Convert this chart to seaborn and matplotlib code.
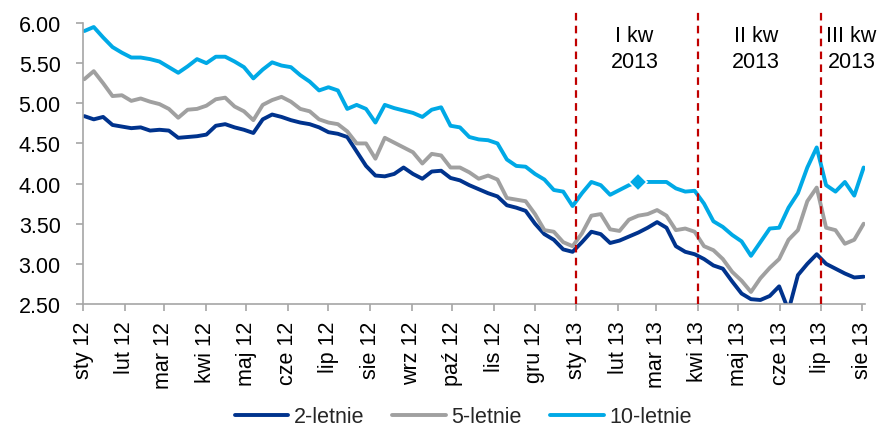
import pandas as pd
import seaborn as sns
import matplotlib.pyplot as plt

# tygodniowe odczyty rentownosci, 2012-01-02 .. 2013-08-02
START = "2012-01-02"
END = "2013-08-02"

Y2 = [
    4.84, 4.80, 4.83, 4.73, 4.71, 4.69, 4.70, 4.66, 4.67, 4.66,
    4.57, 4.58, 4.59, 4.61, 4.72, 4.74, 4.70, 4.67, 4.63, 4.80,
    4.86, 4.83, 4.79, 4.76, 4.74, 4.70, 4.64, 4.62, 4.58, 4.40,
    4.22, 4.10, 4.09, 4.12, 4.20, 4.12, 4.06, 4.15, 4.16, 4.07,
    4.04, 3.98, 3.93, 3.88, 3.84, 3.73, 3.70, 3.66, 3.50, 3.37,
    3.30, 3.18, 3.15, 3.27, 3.40, 3.37, 3.26, 3.29, 3.34, 3.39,
    3.45, 3.52, 3.45, 3.22, 3.15, 3.12, 3.06, 2.98, 2.94, 2.78,
    2.63, 2.56, 2.55, 2.60, 2.72, 2.42, 2.86, 3.00, 3.12, 3.00,
    2.94, 2.88, 2.83, 2.84,
]
Y5 = [
    5.30, 5.40, 5.25, 5.09, 5.10, 5.03, 5.06, 5.02, 4.99, 4.93,
    4.82, 4.92, 4.93, 4.97, 5.05, 5.07, 4.96, 4.90, 4.79, 4.98,
    5.04, 5.08, 5.02, 4.93, 4.90, 4.80, 4.76, 4.74, 4.65, 4.50,
    4.50, 4.31, 4.57, 4.51, 4.45, 4.39, 4.25, 4.37, 4.35, 4.20,
    4.20, 4.14, 4.06, 4.10, 4.05, 3.82, 3.80, 3.78, 3.62, 3.42,
    3.40, 3.27, 3.22, 3.38, 3.60, 3.62, 3.43, 3.41, 3.55, 3.60,
    3.62, 3.67, 3.60, 3.42, 3.44, 3.40, 3.22, 3.17, 3.06, 2.90,
    2.79, 2.65, 2.82, 2.95, 3.06, 3.30, 3.42, 3.78, 3.95, 3.45,
    3.42, 3.25, 3.30, 3.50,
]
Y10 = [
    5.90, 5.95, 5.82, 5.70, 5.63, 5.57, 5.57, 5.55, 5.52, 5.45,
    5.38, 5.46, 5.55, 5.50, 5.58, 5.58, 5.52, 5.45, 5.31, 5.42,
    5.51, 5.47, 5.45, 5.35, 5.27, 5.16, 5.20, 5.16, 4.93, 4.98,
    4.93, 4.76, 4.98, 4.94, 4.91, 4.88, 4.83, 4.92, 4.95, 4.72,
    4.70, 4.58, 4.55, 4.54, 4.50, 4.30, 4.22, 4.21, 4.12, 4.05,
    3.92, 3.90, 3.72, 3.88, 4.02, 3.98, 3.86, 3.92, 3.98, 4.02,
    4.02, 4.02, 4.02, 3.94, 3.90, 3.91, 3.75, 3.53, 3.46, 3.36,
    3.28, 3.10, 3.27, 3.44, 3.45, 3.70, 3.88, 4.20, 4.45, 3.98,
    3.90, 4.02, 3.85, 4.20,
]

SERIES = ["2-letnie", "5-letnie", "10-letnie"]
COLORS = ["#00338D", "#A0A0A0", "#00A9E6"]
MONTHS = ["sty", "lut", "mar", "kwi", "maj", "cze",
          "lip", "sie", "wrz", "paź", "lis", "gru"]
Y_TICKS = [2.5, 3.0, 3.5, 4.0, 4.5, 5.0, 5.5, 6.0]
Q_STARTS = ["2013-01-01", "2013-04-01", "2013-07-01"]
Q_LABELS = ["I kw\n2013", "II kw\n2013", "III kw\n2013"]
Q_LABEL_AT = ["2013-02-13", "2013-05-14", "2013-07-24"]
MARKED = 59  # punkt z rombem na serii 10-letniej


def build_frame():
    dates = pd.date_range(START, END, periods=len(Y2))
    df = pd.DataFrame({"data": dates, SERIES[0]: Y2, SERIES[1]: Y5, SERIES[2]: Y10})
    return df.melt(id_vars="data", var_name="seria", value_name="rentownosc"), dates


def main():
    sns.set_theme(style="white")
    plt.rcParams["font.family"] = ["Liberation Sans", "DejaVu Sans"]
    fs = 15.5
    grey = "#A6A6A6"

    long_df, dates = build_frame()

    fig = plt.figure(figsize=(8.79, 4.31), dpi=100)
    ax = fig.add_axes([83 / 879, 126 / 431, 782 / 879, 281 / 431])

    sns.lineplot(data=long_df, x="data", y="rentownosc", hue="seria",
                 hue_order=SERIES, palette=dict(zip(SERIES, COLORS)),
                 linewidth=2.8, legend=False, ax=ax)
    ax.plot(dates[MARKED], Y10[MARKED], marker="D", ms=9, mfc=COLORS[2],
            mec="white", mew=1.2, ls="none", zorder=5)

    for d in Q_STARTS:
        ax.axvline(pd.Timestamp(d), ymin=0, ymax=1.05, color="#C00000",
                   lw=1.6, dashes=(3.4, 2.4), clip_on=False, zorder=4)
    for d, t in zip(Q_LABEL_AT, Q_LABELS):
        ax.text(pd.Timestamp(d), 5.68, t, ha="center", va="center",
                fontsize=fs, linespacing=1.3, color="black")

    ax.set_ylim(2.5, 6.0)
    ax.set_yticks(Y_TICKS)
    ax.set_yticklabels([f"{v:.2f}" for v in Y_TICKS])
    ax.set_xlim(pd.Timestamp("2012-01-01"), pd.Timestamp("2013-08-03"))
    ticks = pd.date_range("2012-01-01", "2013-08-01", freq="MS")
    ax.set_xticks(ticks)
    ax.set_xticklabels([f"{MONTHS[t.month - 1]} {t.year % 100}" for t in ticks],
                       rotation=90)
    ax.set_xlabel("")
    ax.set_ylabel("")

    for s in ["top", "right"]:
        ax.spines[s].set_visible(False)
    for s in ["left", "bottom"]:
        ax.spines[s].set_color(grey)
        ax.spines[s].set_linewidth(1.2)
    ax.tick_params(axis="both", direction="out", length=5, width=1.2,
                   color=grey, labelsize=fs, labelcolor="black")
    ax.tick_params(axis="y", pad=11, left=True)
    ax.tick_params(axis="x", pad=7, bottom=True)

    fig.legend(ax.lines[:3], SERIES, loc="center", ncol=3, frameon=False,
               bbox_to_anchor=(463 / 879, 13 / 431), fontsize=fs,
               handlelength=2.5, handletextpad=0.25, columnspacing=1.3,
               borderpad=0)

    fig.savefig("out.png", dpi=100)
    plt.close(fig)


if __name__ == "__main__":
    main()
